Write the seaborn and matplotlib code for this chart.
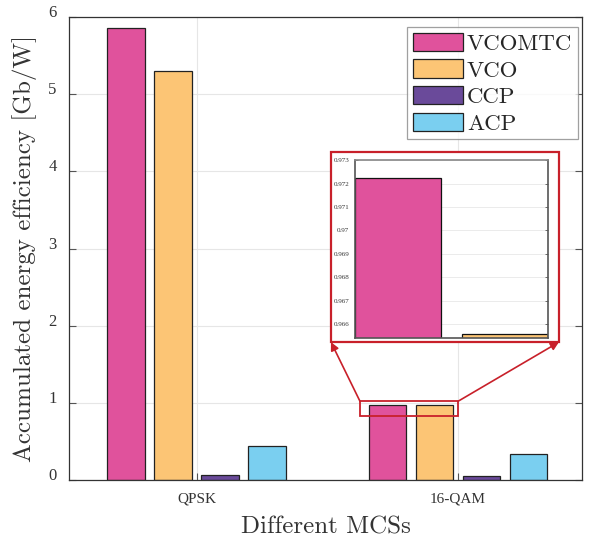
import matplotlib
matplotlib.use("Agg")
import matplotlib.pyplot as plt
import seaborn as sns
import pandas as pd
from matplotlib.patches import Rectangle

categories = ["QPSK", "16-QAM"]
schemes = ["VCOMTC", "VCO", "CCP", "ACP"]
vcomtc = [5.855, 0.97222]
vco = [5.30, 0.96557]
ccp = [0.061, 0.055]
acp = [0.44, 0.337]
colors = ["#e0529c", "#fcc575", "#6a4a9a", "#7acff0"]
yticks = [0, 1, 2, 3, 4, 5, 6]
inset_yticks = [0.966, 0.967, 0.968, 0.969, 0.97, 0.971, 0.972, 0.973]
inset_ylabels = ["0.966", "0.967", "0.968", "0.969", "0.97", "0.971", "0.972", "0.973"]

rows = []
for s, vals in zip(schemes, [vcomtc, vco, ccp, acp]):
    for c, v in zip(categories, vals):
        rows.append({"mcs": c, "scheme": s, "value": v})
df = pd.DataFrame(rows)

sns.set_theme(style="white")
plt.rcParams["font.family"] = ["Liberation Serif", "DejaVu Serif"]
plt.rcParams["axes.formatter.use_mathtext"] = True

fig = plt.figure(figsize=(5.92, 5.43), dpi=100)
ax = fig.add_axes([0.1166, 0.116, 0.8664, 0.8527])

sns.barplot(data=df, x="mcs", y="value", hue="scheme", order=categories,
            hue_order=schemes, palette=colors, width=0.72, gap=0.2,
            edgecolor="#222222", linewidth=0.9, saturation=1, ax=ax, legend=True)

ax.set_xlim(-0.488, 1.474)
ax.set_ylim(0, 6)
ax.set_yticks(yticks)
ax.set_yticklabels([str(t) for t in yticks], va="baseline")
ax.set_xticks([0, 1])
ax.set_xticklabels(categories)
ax.tick_params(direction="in", length=5, width=0.8, top=False, right=True, left=True, bottom=True,
               colors="#555555", labelcolor="#333333")
ax.tick_params(axis="y", pad=9, labelsize=12)
ax.tick_params(axis="x", pad=9, labelsize=11)
ax.grid(True, color="#e6e6e6", linewidth=0.8)
ax.set_axisbelow(True)
for sp in ax.spines.values():
    sp.set_color("#333333")
    sp.set_linewidth(0.9)

ax.set_ylabel("Accumulated energy efficiency [Gb/W]", family="cmr10", fontsize=18, color="#333333", labelpad=8)
ax.set_xlabel("Different MCSs", family="cmr10", fontsize=18, color="#333333", labelpad=8)

leg = ax.legend(loc="upper right", bbox_to_anchor=(0.992, 0.978), borderaxespad=0,
                prop={"family": "cmr10", "size": 16.5}, frameon=True,
                fancybox=False, edgecolor="#888888", handlelength=2.2, handleheight=0.85,
                handletextpad=0.15, borderpad=0.25, labelspacing=0.24)
leg.get_frame().set_linewidth(0.9)
leg.set_zorder(10)

# Zoom rectangle in main axes
red = "#c8202a"
ax.add_patch(Rectangle((0.625, 0.83), 0.375, 0.19, fill=False, edgecolor=red, linewidth=1.3, zorder=6))
# Outer box around inset
ax.add_patch(Rectangle((0.514, 1.787), 0.872, 2.463, facecolor="white", edgecolor=red, linewidth=1.6, zorder=5))
# Arrows
ax.annotate("", xy=(0.514, 1.787), xytext=(0.625, 1.02),
            arrowprops=dict(arrowstyle="-|>", color=red, lw=1.2, mutation_scale=12, shrinkA=0, shrinkB=0), zorder=6)
ax.annotate("", xy=(1.386, 1.787), xytext=(1.0, 1.02),
            arrowprops=dict(arrowstyle="-|>", color=red, lw=1.2, mutation_scale=12, shrinkA=0, shrinkB=0), zorder=6)

# Inset axes
axin = ax.inset_axes([0.606, 1.839, 0.738, 2.306], transform=ax.transData, zorder=7)
sns.barplot(data=df, x="mcs", y="value", hue="scheme", order=categories,
            hue_order=schemes, palette=colors, width=0.72, gap=0.2,
            edgecolor="#111111", linewidth=0.9, saturation=1, ax=axin, legend=False)
axin.set_xlim(0.658, 0.982)
axin.set_ylim(0.9654, 0.973)
axin.set_yticks(inset_yticks)
axin.set_yticklabels(inset_ylabels, fontsize=5, color="#333333")
axin.set_xticks([])
axin.set_xlabel("")
axin.set_ylabel("")
axin.tick_params(axis="y", direction="in", length=2, width=0.6, left=True, right=True, pad=4,
                 colors="#555555", labelcolor="#333333")
axin.grid(True, axis="y", color="#e8e8e8", linewidth=0.6)
axin.set_axisbelow(True)
for name, sp in axin.spines.items():
    sp.set_color("#555555")
    sp.set_linewidth(1.2)
axin.spines["top"].set_color("#888888")

fig.savefig("out.png", dpi=100)
